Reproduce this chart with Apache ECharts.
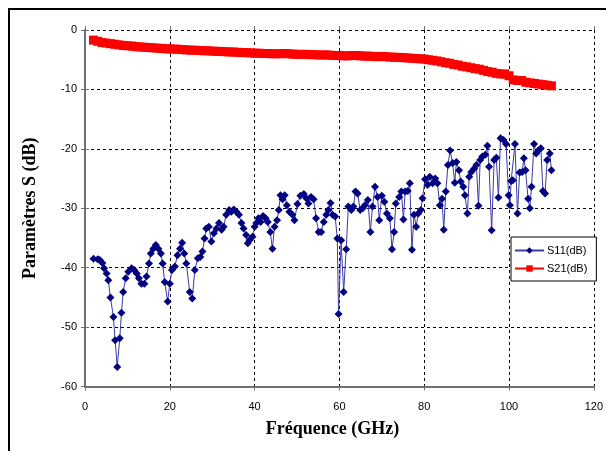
<!DOCTYPE html>
<html>
<head>
<meta charset="utf-8">
<script src="https://cdn.jsdelivr.net/npm/echarts@6/dist/echarts.min.js"></script>
<style>
html,body{margin:0;padding:0;background:#fff;}
#chart{width:606px;height:451px;}
</style>
</head>
<body>
<div id="chart"></div>
<script>
// ---- Data ----
var xTicks = [0, 20, 40, 60, 80, 100, 120];
var yTicks = [-60, -50, -40, -30, -20, -10, 0];

var freqS11 = [2.0,3.0,3.5,4.1,4.5,5.1,5.5,6.0,6.7,7.1,7.6,8.2,8.6,9.0,9.6,10.2,11.0,11.6,12.2,12.7,13.3,14.0,14.5,15.1,15.5,16.1,16.7,17.3,17.9,18.3,18.8,19.5,20.0,20.5,21.2,21.8,22.4,22.9,23.4,23.9,24.7,25.3,25.9,26.6,27.2,27.7,28.2,28.6,29.2,29.8,30.4,31.0,31.6,32.2,32.7,33.3,34.0,34.5,35.1,35.7,36.3,36.9,37.4,38.0,38.4,38.8,39.5,40.0,40.4,40.9,41.4,42.0,42.6,43.1,43.7,44.2,44.7,45.3,45.7,46.1,46.6,47.1,47.6,48.2,48.9,49.4,50.1,50.8,51.6,52.2,52.7,53.3,53.9,54.5,55.1,55.7,56.3,56.9,57.4,57.9,58.4,59.0,59.5,59.8,60.4,61.0,61.6,62.1,62.8,63.3,63.8,64.3,64.9,65.5,66.0,66.7,67.3,67.8,68.4,69.0,69.4,70.0,70.6,71.2,71.9,72.4,72.9,73.3,74.1,74.6,75.1,75.5,76.1,76.6,77.1,77.6,78.1,78.6,79.2,79.6,80.2,80.8,81.3,82.0,82.6,83.1,83.7,84.2,84.6,85.1,85.6,86.1,86.7,87.2,87.6,88.2,88.6,89.2,89.6,90.2,90.6,91.1,91.8,92.3,92.8,93.2,93.7,94.4,94.9,95.3,95.9,96.5,97.0,97.5,98.0,98.7,99.3,99.9,100.2,100.5,100.9,101.4,102.0,102.5,103.1,103.5,103.9,104.5,104.9,105.3,105.9,106.4,106.9,107.5,108.0,108.5,109.0,109.6,110.0];
var s11 = [-38.5,-38.6,-38.7,-39.2,-40.1,-41.0,-42.1,-45.0,-48.3,-52.2,-56.7,-51.9,-47.6,-44.1,-41.8,-40.7,-40.1,-40.4,-41.0,-41.8,-42.7,-42.7,-41.5,-39.3,-37.6,-36.8,-36.2,-36.8,-37.6,-39.3,-42.4,-45.7,-42.7,-40.4,-39.8,-37.9,-36.8,-35.8,-37.6,-39.3,-44.1,-45.2,-40.4,-38.4,-38.2,-37.3,-35.1,-33.4,-33.1,-35.6,-34.2,-33.4,-32.5,-33.6,-33.1,-31.1,-30.3,-30.6,-30.2,-30.6,-31.1,-32.5,-33.4,-34.5,-35.9,-35.4,-34.8,-33.1,-32.5,-31.7,-32.3,-31.3,-31.7,-32.3,-34.0,-36.8,-33.1,-32.0,-30.3,-27.8,-28.5,-27.8,-29.5,-30.6,-31.1,-32.0,-29.3,-27.9,-27.6,-28.3,-29.2,-28.1,-28.5,-31.7,-34.0,-34.0,-32.3,-31.1,-30.3,-29.1,-31.1,-31.4,-35.1,-47.8,-35.4,-44.1,-36.9,-29.7,-30.3,-29.7,-27.2,-27.5,-30.3,-30.0,-29.5,-28.6,-34.0,-29.7,-26.4,-28.1,-32.0,-27.9,-28.9,-30.9,-31.7,-36.9,-34.0,-29.2,-28.1,-27.2,-31.9,-27.2,-27.1,-25.8,-37.0,-31.1,-33.1,-30.9,-30.3,-28.3,-25.1,-26.1,-24.7,-25.8,-25.0,-25.8,-29.5,-28.4,-33.6,-27.2,-22.7,-20.3,-22.4,-25.7,-22.2,-23.6,-25.5,-26.4,-27.8,-30.9,-24.7,-23.9,-23.3,-22.7,-29.6,-21.9,-21.3,-21.0,-19.5,-23.0,-33.7,-21.9,-21.5,-28.2,-18.2,-18.5,-19.2,-27.8,-29.5,-25.4,-25.3,-19.2,-30.9,-24.0,-23.9,-21.6,-23.6,-28.4,-30.0,-26.4,-19.2,-20.8,-20.3,-19.9,-27.1,-27.5,-21.9,-20.8,-23.6];

var freqS21 = [2,3,4,5,6,7,8,9,10,11,12,13,14,15,16,17,18,19,20,21,22,23,24,25,26,27,28,29,30,31,32,33,34,35,36,37,38,39,40,41,42,43,44,45,46,47,48,49,50,51,52,53,54,55,56,57,58,59,60,61,62,63,64,65,66,67,68,69,70,71,72,73,74,75,76,77,78,79,80,81,82,83,84,85,86,87,88,89,90,91,92,93,94,95,96,97,98,99,100,101,102,103,104,105,106,107,108,109,110];
var s21 = [-1.7,-1.9,-2.1,-2.2,-2.3,-2.4,-2.5,-2.6,-2.65,-2.7,-2.8,-2.85,-2.9,-2.95,-3.0,-3.05,-3.1,-3.15,-3.2,-3.2,-3.25,-3.3,-3.35,-3.4,-3.4,-3.45,-3.5,-3.5,-3.55,-3.6,-3.6,-3.65,-3.7,-3.7,-3.75,-3.8,-3.8,-3.85,-3.9,-3.9,-3.95,-3.95,-4.0,-4.0,-4.0,-3.95,-4.0,-4.05,-4.1,-4.1,-4.1,-4.15,-4.15,-4.2,-4.2,-4.2,-4.25,-4.3,-4.3,-4.35,-4.35,-4.3,-4.3,-4.35,-4.4,-4.4,-4.45,-4.5,-4.45,-4.5,-4.55,-4.6,-4.6,-4.65,-4.7,-4.75,-4.8,-4.85,-4.9,-5.0,-5.1,-5.2,-5.35,-5.5,-5.6,-5.8,-5.9,-6.1,-6.2,-6.35,-6.5,-6.6,-6.8,-7.0,-7.1,-7.3,-7.4,-7.4,-7.7,-8.4,-8.5,-8.5,-8.8,-8.9,-9.0,-9.1,-9.2,-9.3,-9.4];

var seriesNames = ['S11(dB)', 'S21(dB)'];

function pairs(xs, ys) { return xs.map(function (x, i) { return [x, ys[i]]; }); }

var chart = echarts.init(document.getElementById('chart'), null, {renderer: 'canvas'});
var sans = 'Liberation Sans, Arial, sans-serif';
var serif = 'Liberation Serif, Times New Roman, serif';

chart.setOption({
  animation: false,
  backgroundColor: '#ffffff',
  graphic: [{
    type: 'rect',
    shape: {x: 9, y: 9, width: 800, height: 700},
    style: {fill: 'none', stroke: '#000', lineWidth: 2},
    silent: true, z: 100
  }],
  grid: {left: 85, top: 30, right: 11, bottom: 64.5, containLabel: false},
  legend: {
    orient: 'vertical',
    left: 511, top: 237,
    data: seriesNames,
    itemWidth: 29, itemHeight: 8, itemGap: 7,
    padding: [8, 9, 7, 3],
    borderColor: '#000', borderWidth: 1,
    backgroundColor: '#fff',
    textStyle: {fontFamily: sans, fontSize: 11, color: '#000', padding: [0, 0, 0, -2]}
  },
  xAxis: [{
    type: 'value', min: xTicks[0], max: xTicks[xTicks.length - 1], interval: 20,
    position: 'bottom',
    name: 'Fréquence (GHz)', nameLocation: 'middle', nameGap: 34,
    nameTextStyle: {fontFamily: serif, fontWeight: 'bold', fontSize: 18, color: '#000', padding: [0, 14, 0, 0]},
    axisLine: {show: true, onZero: false, lineStyle: {color: '#707070', width: 2}},
    axisTick: {show: true, length: 4, lineStyle: {color: '#707070', width: 1}},
    axisLabel: {fontFamily: sans, fontSize: 11, color: '#000', margin: 15},
    splitLine: {show: true, lineStyle: {color: '#000', type: [3, 3], width: 1}}
  }, {
    type: 'value', min: xTicks[0], max: xTicks[xTicks.length - 1], interval: 20,
    position: 'bottom',
    axisLine: {show: false}, axisLabel: {show: false}, splitLine: {show: false},
    axisTick: {show: true, inside: true, length: 4, lineStyle: {color: '#707070', width: 1}}
  }],
  yAxis: [{
    type: 'value', min: yTicks[0], max: yTicks[yTicks.length - 1], interval: 10,
    position: 'left',
    name: 'Paramètres S (dB)', nameLocation: 'middle', nameGap: 46,
    nameTextStyle: {fontFamily: serif, fontWeight: 'bold', fontSize: 18, color: '#000'},
    axisLine: {show: true, onZero: false, lineStyle: {color: '#707070', width: 2}},
    axisTick: {show: true, length: 4, lineStyle: {color: '#707070', width: 1}},
    axisLabel: {fontFamily: sans, fontSize: 11, color: '#000', margin: 8},
    splitLine: {show: true, lineStyle: {color: '#000', type: [3, 3], width: 1}}
  }, {
    type: 'value', min: yTicks[0], max: yTicks[yTicks.length - 1], interval: 10,
    position: 'left',
    axisLine: {show: false}, axisLabel: {show: false}, splitLine: {show: false},
    axisTick: {show: true, inside: true, length: 4, lineStyle: {color: '#707070', width: 1}}
  }],
  series: [{
    name: seriesNames[0], type: 'line',
    data: pairs(freqS11, s11),
    symbol: 'diamond', symbolSize: 8,
    itemStyle: {color: '#000080'},
    lineStyle: {color: '#3a3aa8', width: 1},
    z: 3
  }, {
    name: seriesNames[1], type: 'line',
    data: pairs(freqS21, s21),
    symbol: 'rect', symbolSize: 9,
    itemStyle: {color: '#ff0000'},
    lineStyle: {color: '#ff0000', width: 3},
    z: 4
  }]
});
</script>
</body>
</html>
